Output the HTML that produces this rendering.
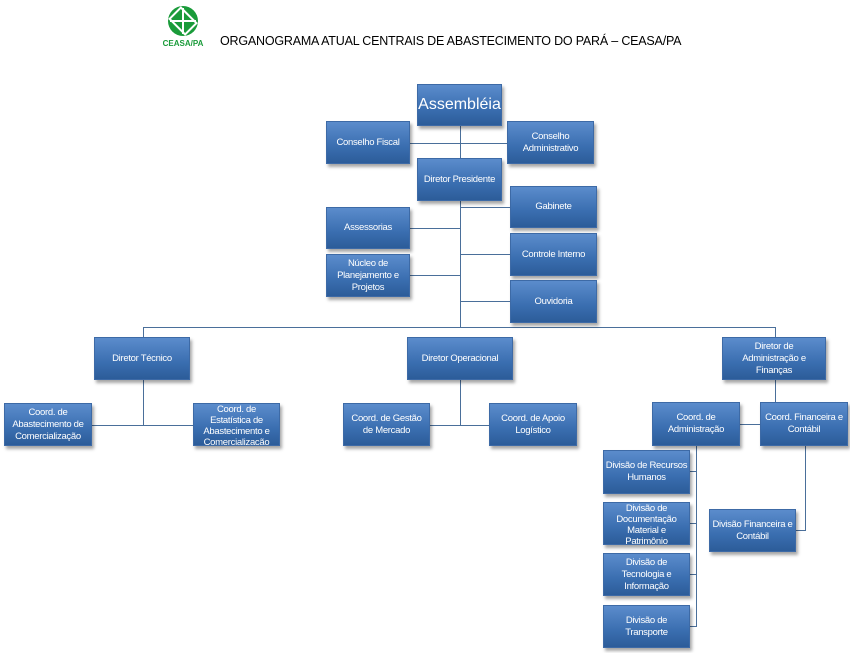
<!DOCTYPE html>
<html><head><style>
body{margin:0;width:850px;height:653px;background:#fff;position:relative;overflow:hidden;font-family:"Liberation Sans",sans-serif}
.b{position:absolute;display:flex;align-items:center;justify-content:center;text-align:center;color:#fff;font-size:9.5px;letter-spacing:-0.3px;white-space:nowrap;line-height:12px;background:linear-gradient(#5b8ccc,#3a6eb0 60%,#2c5c99);border:1px solid #3d6aa6;box-shadow:2px 3px 3px rgba(0,0,0,.35);box-sizing:border-box;overflow:hidden}
.l{position:absolute;background:#4a6f9a}
</style></head><body>
<svg style="position:absolute;left:162px;top:4px" width="42" height="44" viewBox="0 0 42 44">
<circle cx="21" cy="17" r="15" fill="#1a9b3a"/>
<rect x="10" y="9" width="22" height="16" fill="none" stroke="#fff" stroke-width="2" transform="rotate(45 21 17)"/>
<line x1="21" y1="4" x2="21" y2="30" stroke="#fff" stroke-width="2"/><line x1="8" y1="17" x2="34" y2="17" stroke="#fff" stroke-width="2"/>
<text x="21" y="42" font-size="8" font-weight="bold" fill="#1a9b3a" text-anchor="middle" font-family="Liberation Sans">CEASA/PA</text>
</svg>
<div style="position:absolute;left:220px;top:34px;font-size:12.5px;color:#000;letter-spacing:-0.2px">ORGANOGRAMA ATUAL CENTRAIS DE ABASTECIMENTO DO PARÁ – CEASA/PA</div>

<div class="l" style="left:460px;top:126px;width:1px;height:201px"></div>
<div class="l" style="left:410px;top:143px;width:97px;height:1px"></div>
<div class="l" style="left:460px;top:207px;width:50px;height:1px"></div>
<div class="l" style="left:410px;top:228px;width:50px;height:1px"></div>
<div class="l" style="left:460px;top:254px;width:50px;height:1px"></div>
<div class="l" style="left:410px;top:275px;width:50px;height:1px"></div>
<div class="l" style="left:460px;top:301px;width:50px;height:1px"></div>
<div class="l" style="left:143px;top:327px;width:633px;height:1px"></div>
<div class="l" style="left:143px;top:327px;width:1px;height:98px"></div>
<div class="l" style="left:92px;top:425px;width:101px;height:1px"></div>
<div class="l" style="left:775px;top:327px;width:1px;height:10px"></div>
<div class="l" style="left:460px;top:380px;width:1px;height:45px"></div>
<div class="l" style="left:430px;top:425px;width:59px;height:1px"></div>
<div class="l" style="left:775px;top:380px;width:1px;height:22px"></div>
<div class="l" style="left:740px;top:424px;width:20px;height:1px"></div>
<div class="l" style="left:696px;top:446px;width:1px;height:181px"></div>
<div class="l" style="left:690px;top:471px;width:7px;height:1px"></div>
<div class="l" style="left:690px;top:523px;width:7px;height:1px"></div>
<div class="l" style="left:690px;top:574px;width:7px;height:1px"></div>
<div class="l" style="left:690px;top:626px;width:7px;height:1px"></div>
<div class="l" style="left:805px;top:446px;width:1px;height:85px"></div>
<div class="l" style="left:796px;top:530px;width:10px;height:1px"></div>

<div class="b" style="left:417px;top:84px;width:85px;height:42px;font-size:16px;letter-spacing:0">Assembléia</div>
<div class="b" style="left:326px;top:121px;width:84px;height:43px">Conselho Fiscal</div>
<div class="b" style="left:507px;top:121px;width:87px;height:43px">Conselho<br>Administrativo</div>
<div class="b" style="left:417px;top:158px;width:85px;height:43px">Diretor Presidente</div>
<div class="b" style="left:510px;top:186px;width:87px;height:42px">Gabinete</div>
<div class="b" style="left:510px;top:233px;width:87px;height:43px">Controle Interno</div>
<div class="b" style="left:510px;top:280px;width:87px;height:43px">Ouvidoria</div>
<div class="b" style="left:326px;top:207px;width:84px;height:42px">Assessorias</div>
<div class="b" style="left:326px;top:254px;width:84px;height:43px">Núcleo de<br>Planejamento e<br>Projetos</div>
<div class="b" style="left:94px;top:337px;width:96px;height:43px">Diretor Técnico</div>
<div class="b" style="left:407px;top:337px;width:106px;height:43px">Diretor Operacional</div>
<div class="b" style="left:722px;top:337px;width:104px;height:43px">Diretor de<br>Administração e<br>Finanças</div>
<div class="b" style="left:4px;top:403px;width:88px;height:43px">Coord. de<br>Abastecimento de<br>Comercialização</div>
<div class="b" style="left:193px;top:403px;width:87px;height:43px;line-height:11px;padding-top:2px">Coord. de<br>Estatística de<br>Abastecimento e<br>Comercialização</div>
<div class="b" style="left:343px;top:403px;width:87px;height:43px">Coord. de Gestão<br>de Mercado</div>
<div class="b" style="left:489px;top:403px;width:88px;height:43px">Coord. de Apoio<br>Logístico</div>
<div class="b" style="left:652px;top:402px;width:88px;height:44px">Coord. de<br>Administração</div>
<div class="b" style="left:760px;top:402px;width:88px;height:44px">Coord. Financeira e<br>Contábil</div>
<div class="b" style="left:603px;top:450px;width:87px;height:44px">Divisão de Recursos<br>Humanos</div>
<div class="b" style="left:603px;top:502px;width:87px;height:43px;line-height:11px;padding-top:2px">Divisão de<br>Documentação<br>Material e<br>Patrimônio</div>
<div class="b" style="left:603px;top:553px;width:87px;height:43px">Divisão de<br>Tecnologia e<br>Informação</div>
<div class="b" style="left:603px;top:605px;width:87px;height:43px">Divisão de<br>Transporte</div>
<div class="b" style="left:709px;top:509px;width:87px;height:43px">Divisão Financeira e<br>Contábil</div>
</body></html>
